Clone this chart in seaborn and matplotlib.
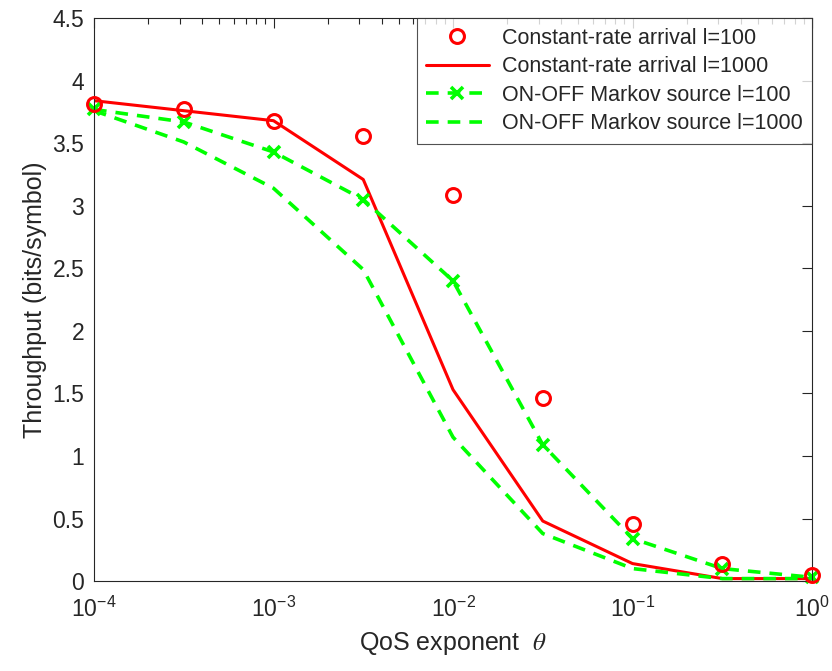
import numpy as np
import pandas as pd
import seaborn as sns
import matplotlib.pyplot as plt
from matplotlib.ticker import LogLocator, NullFormatter

# QoS exponent values
theta = [1e-4, 3.162e-4, 1e-3, 3.162e-3, 1e-2, 3.162e-2, 1e-1, 3.162e-1, 1.0]

# throughput (bits/symbol)
const_100 = [3.81, 3.77, 3.68, 3.56, 3.09, 1.46, 0.46, 0.14, 0.05]
const_1000 = [3.84, 3.76, 3.68, 3.21, 1.53, 0.48, 0.14, 0.02, 0.02]
onoff_100 = [3.77, 3.67, 3.43, 3.05, 2.40, 1.09, 0.34, 0.10, 0.03]
onoff_1000 = [3.76, 3.51, 3.14, 2.49, 1.15, 0.38, 0.10, 0.02, 0.02]

labels = ["Constant-rate arrival l=100", "Constant-rate arrival l=1000",
          "ON-OFF Markov source l=100", "ON-OFF Markov source l=1000"]

df = pd.DataFrame({"theta": theta * 4,
                   "throughput": const_100 + const_1000 + onoff_100 + onoff_1000,
                   "series": np.repeat(labels, len(theta))})

sns.set_style('white')
plt.rcParams['font.family'] = ['Liberation Sans', 'DejaVu Sans']
plt.rcParams['mathtext.fontset'] = 'stix'

fig = plt.figure(figsize=(8.32, 6.71), dpi=100)
ax = fig.add_axes([0.113, 0.134, 0.863, 0.839])

red = (1, 0, 0)
green = (0, 1, 0)

sns.lineplot(data=df[df.series == labels[0]], x="theta", y="throughput", ax=ax,
             color=red, marker='o', markersize=10, markerfacecolor='none',
             markeredgecolor=red, markeredgewidth=2.2, linestyle='none',
             label=labels[0], clip_on=False, zorder=5)
sns.lineplot(data=df[df.series == labels[1]], x="theta", y="throughput", ax=ax,
             color=red, linewidth=2.2, label=labels[1])
sns.lineplot(data=df[df.series == labels[2]], x="theta", y="throughput", ax=ax,
             color=green, linewidth=2.6, linestyle=(0, (3.5, 2.5)), marker='x',
             markersize=8, markeredgewidth=2.6, markeredgecolor=green,
             label=labels[2], clip_on=False)
sns.lineplot(data=df[df.series == labels[3]], x="theta", y="throughput", ax=ax,
             color=green, linewidth=2.6, linestyle=(0, (3.5, 2.5)), label=labels[3])

ax.set_xscale('log')
ax.set_xlim(1e-4, 1)
ax.set_ylim(0, 4.5)
ax.set_yticks(np.arange(0, 4.51, 0.5))
ax.set_yticklabels(['0', '0.5', '1', '1.5', '2', '2.5', '3', '3.5', '4', '4.5'])
ax.xaxis.set_major_locator(LogLocator(base=10, numticks=10))
ax.xaxis.set_minor_locator(LogLocator(base=10, subs=np.arange(2, 10), numticks=20))
ax.xaxis.set_minor_formatter(NullFormatter())
ax.tick_params(which='both', direction='in', top=True, right=True, labelsize=16.5,
               color='#262626')
ax.tick_params(axis='y', pad=7)
ax.tick_params(axis='x', pad=11)
ax.tick_params(which='major', length=7, width=0.8)
ax.tick_params(which='minor', length=4, width=0.8)
for s in ax.spines.values():
    s.set_color('#262626')
    s.set_linewidth(0.8)

ax.set_xlabel(r"QoS exponent  $\theta$", fontsize=18, labelpad=6)
ax.set_ylabel("Throughput (bits/symbol)", fontsize=18)

leg = ax.legend(loc='upper right', borderaxespad=0, fontsize=15.5, frameon=True,
                fancybox=False, edgecolor='#262626', handlelength=2.9,
                labelspacing=0.35, borderpad=0.45, handletextpad=0.6)
leg.get_frame().set_linewidth(0.8)

fig.savefig("out.png", dpi=100)
